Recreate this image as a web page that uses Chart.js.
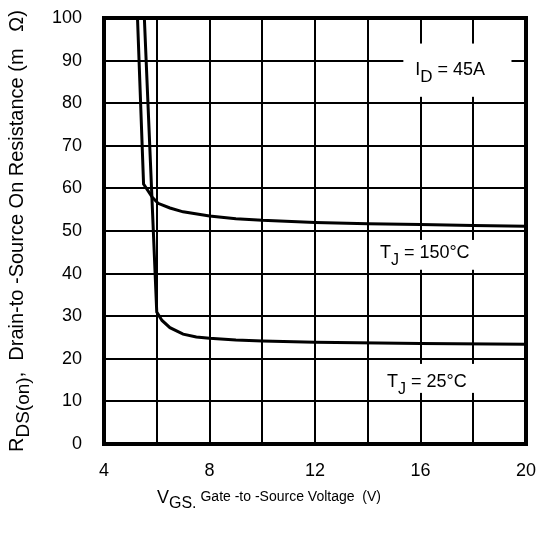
<!DOCTYPE html>
<html>
<head>
<meta charset="utf-8">
<script src="https://cdn.jsdelivr.net/npm/chart.js@4"></script>
<style>
  html, body { margin: 0; padding: 0; background: #fff; }
  #wrap { width: 536px; height: 534px; }
</style>
</head>
<body>
<div id="wrap"><canvas id="myChart" width="536" height="534"></canvas></div>
<script>
// data
const vgs150 = [5.27, 5.5, 5.82, 6.05, 6.5, 7, 8, 9, 10, 12, 14, 16, 18, 20];
const rds150 = [100, 61, 58, 56.5, 55.4, 54.5, 53.5, 52.9, 52.5, 52, 51.7, 51.5, 51.3, 51.1];
const vgs25 = [5.53, 6.0, 6.2, 6.5, 7, 7.5, 8, 9, 10, 12, 16, 20];
const rds25 = [100, 31, 29, 27.3, 25.8, 25.1, 24.8, 24.4, 24.2, 23.9, 23.6, 23.4];
const xTicks = [4, 8, 12, 16, 20];
const yTicks = [0, 10, 20, 30, 40, 50, 60, 70, 80, 90, 100];

const FONT = '"Liberation Sans", Arial, sans-serif';

function toPoints(xs, ys) {
  return xs.map((x, i) => ({ x: x, y: ys[i] }));
}

// draw a run of text pieces: [text, size, dy]
function drawParts(ctx, x, y, parts) {
  let cx = x;
  parts.forEach(p => {
    ctx.font = p[1] + 'px ' + FONT;
    ctx.fillText(p[0], cx, y + p[2]);
    cx += ctx.measureText(p[0]).width;
  });
}

// in-plot labels (data coords): anchor = left/baseline, box = x0,x1,yTop,yBottom
const labels = [
  { parts: [['I', 18, 0], ['D', 17, 7], [' = 45A', 18, 0]], x: 15.8, y: 86.7, box: [15.35, 19.45, 94, 81.5] },
  { parts: [['T', 18, 0], ['J', 16, 7], [' = 150°C', 18, 0]], x: 14.46, y: 43.7, box: [14.39, 18.48, 47.9, 40.9] },
  { parts: [['T', 18, 0], ['J', 16, 7], [' = 25°C', 18, 0]], x: 14.73, y: 13.4, box: [14.65, 18.1, 18.8, 12.0] }
];

const labelPlugin = {
  id: 'labelPlugin',
  beforeDatasetsDraw(chart) {
    const ctx = chart.ctx;
    const xs = chart.scales.x, ys = chart.scales.y;
    ctx.save();
    labels.forEach(l => {
      const x0 = xs.getPixelForValue(l.box[0]), x1 = xs.getPixelForValue(l.box[1]);
      const y0 = ys.getPixelForValue(l.box[2]), y1 = ys.getPixelForValue(l.box[3]);
      ctx.fillStyle = '#fff';
      ctx.fillRect(x0, y0, x1 - x0, y1 - y0);
      ctx.fillStyle = '#000';
      ctx.textBaseline = 'alphabetic';
      ctx.textAlign = 'left';
      drawParts(ctx, xs.getPixelForValue(l.x), ys.getPixelForValue(l.y), l.parts);
    });
    ctx.restore();
  },
  afterDraw(chart) {
    const ctx = chart.ctx;
    const a = chart.chartArea;
    ctx.save();
    // thick frame
    ctx.strokeStyle = '#000';
    ctx.lineWidth = 4;
    ctx.strokeRect(a.left, a.top, a.right - a.left, a.bottom - a.top);

    ctx.fillStyle = '#000';
    ctx.textBaseline = 'alphabetic';
    ctx.textAlign = 'left';
    // x title
    drawParts(ctx, 157, 503, [['V', 18, 0], ['GS.', 16, 5], [' Gate -to -Source Voltage  (V)', 14, -2]]);
    // y title
    ctx.translate(23, 452);
    ctx.rotate(-Math.PI / 2);
    drawParts(ctx, 0, 0, [['R', 20, 0], ['DS(on)', 19, 6], [',  Drain-to -Source On Resistance (m   Ω)', 20, 0]]);
    ctx.restore();
  }
};

const data = {
  datasets: [
    {
      label: 'TJ = 150°C',
      data: toPoints(vgs150, rds150),
      borderColor: '#000',
      borderWidth: 3,
      pointRadius: 0,
      showLine: true,
      tension: 0
    },
    {
      label: 'TJ = 25°C',
      data: toPoints(vgs25, rds25),
      borderColor: '#000',
      borderWidth: 3,
      pointRadius: 0,
      showLine: true,
      tension: 0
    }
  ]
};

const config = {
  type: 'scatter',
  data,
  plugins: [labelPlugin],
  options: {
    responsive: false,
    animation: false,
    layout: { padding: { left: 0, right: 10, top: 18, bottom: 0 } },
    plugins: { legend: { display: false }, tooltip: { enabled: false } },
    scales: {
      x: {
        type: 'linear',
        min: 4, max: 20,
        afterFit(s) { s.height = 90; s.paddingLeft = 0; s.paddingRight = 0; },
        grid: { color: '#000', lineWidth: 2, drawTicks: false },
        border: { display: false },
        ticks: {
          stepSize: 2,
          padding: 16,
          maxRotation: 0,
          color: '#000',
          font: { family: FONT, size: 18 },
          callback: v => xTicks.includes(v) ? String(v) : ''
        }
      },
      y: {
        min: 0, max: 100,
        afterFit(s) { s.width = 104; s.paddingTop = 0; s.paddingBottom = 0; },
        grid: { color: '#000', lineWidth: 2, drawTicks: false },
        border: { display: false },
        ticks: {
          stepSize: 10,
          padding: 22,
          color: '#000',
          font: { family: FONT, size: 18 },
          callback: v => yTicks.includes(v) ? String(v) : ''
        }
      }
    }
  }
};

const myChart = new Chart(document.getElementById('myChart'), config);
</script>
</body>
</html>
